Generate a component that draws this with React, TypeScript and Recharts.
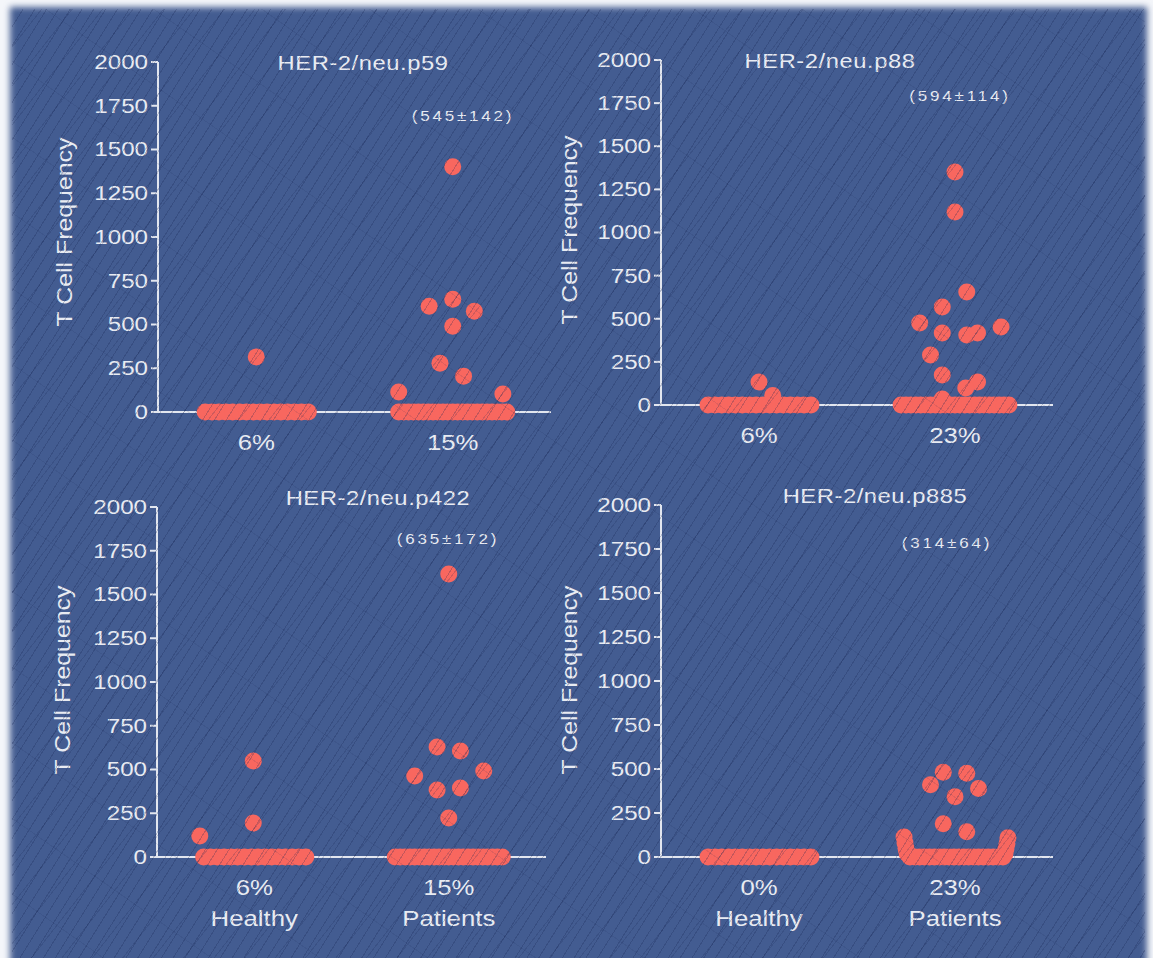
import React from 'react'
import { ScatterChart, Scatter, XAxis, YAxis } from 'recharts'

const W = 1153
const H = 958
const INK = '#E8EBF2'
const AXIS = '#E2E6EF'
const DOT = '#F8675F'
const FONT = '"Liberation Sans", Arial, sans-serif'

const Y_TICKS = [0, 250, 500, 750, 1000, 1250, 1500, 1750, 2000]
const GROUP_X = [1, 3]
const GROUP_NAMES = ['Healthy', 'Patients']

// non-responders, spread along the zero line of each group
const HEALTHY_ZERO_X = [0.48, 0.55, 0.62, 0.69, 0.76, 0.83, 0.9, 0.97, 1.04, 1.11, 1.18, 1.25, 1.32, 1.39, 1.46, 1.53]
const PATIENT_ZERO_X = [
  2.45, 2.5, 2.55, 2.6, 2.65, 2.7, 2.75, 2.8, 2.85, 2.9, 2.95, 3.0,
  3.05, 3.1, 3.15, 3.2, 3.25, 3.3, 3.35, 3.4, 3.45, 3.5, 3.55,
]
const P885_PATIENT_ZERO_X = [
  2.54, 2.59, 2.64, 2.69, 2.74, 2.79, 2.84, 2.89, 2.94, 2.99, 3.04,
  3.09, 3.14, 3.19, 3.24, 3.29, 3.34, 3.39, 3.44, 3.49,
]

// responders as [x, T cell frequency]
const P59_HEALTHY = [[1.0, 315]]
const P59_PATIENTS = [
  [3.0, 1402], [2.76, 604], [3.0, 644], [3.22, 576], [3.0, 490],
  [2.87, 279], [3.11, 205], [2.45, 114], [3.51, 103],
]
const P88_HEALTHY = [[1.0, 133], [1.14, 55]]
const P88_PATIENTS = [
  [3.0, 1351], [3.0, 1119], [3.12, 655], [2.87, 568], [2.64, 475],
  [2.87, 417], [3.12, 406], [3.23, 417], [3.47, 452], [2.75, 290],
  [2.87, 174], [3.23, 133], [3.11, 99], [2.87, 35],
]
const P422_HEALTHY = [[0.44, 120], [0.99, 549], [0.99, 194]]
const P422_PATIENTS = [
  [3.0, 1617], [2.88, 629], [3.12, 606], [2.65, 463], [3.36, 491],
  [2.88, 383], [3.12, 394], [3.0, 223],
]
const P885_HEALTHY: number[][] = []
const P885_PATIENTS = [
  [2.88, 482], [3.12, 476], [2.75, 411], [3.24, 389], [3.0, 343],
  [2.88, 189], [3.12, 143],
  [2.51, 22], [2.5, 50], [2.49, 80], [2.48, 114],
  [3.51, 18], [3.52, 45], [3.53, 75], [3.54, 109],
]

const TITLES = ['HER-2/neu.p59', 'HER-2/neu.p88', 'HER-2/neu.p422', 'HER-2/neu.p885']
const PCT_LABELS = [['6%', '15%'], ['6%', '23%'], ['6%', '15%'], ['0%', '23%']]
const MEAN_SEM = ['(545±142)', '(594±114)', '(635±172)', '(314±64)']

const PANELS = [
  {
    title: TITLES[0], pct: PCT_LABELS[0], note: MEAN_SEM[0], groups: false,
    healthy: P59_HEALTHY, patients: P59_PATIENTS, hz: HEALTHY_ZERO_X, pz: PATIENT_ZERO_X,
    plot: { left: 158, top: 62, right: 551, bottom: 412 },
    titleAt: [363, 62], noteAt: [463, 115], yLabelAt: [65, 232],
  },
  {
    title: TITLES[1], pct: PCT_LABELS[1], note: MEAN_SEM[1], groups: false,
    healthy: P88_HEALTHY, patients: P88_PATIENTS, hz: HEALTHY_ZERO_X, pz: PATIENT_ZERO_X,
    plot: { left: 661, top: 60, right: 1053, bottom: 405 },
    titleAt: [830, 60], noteAt: [960, 95], yLabelAt: [570, 230],
  },
  {
    title: TITLES[2], pct: PCT_LABELS[2], note: MEAN_SEM[2], groups: true,
    healthy: P422_HEALTHY, patients: P422_PATIENTS, hz: HEALTHY_ZERO_X, pz: PATIENT_ZERO_X,
    plot: { left: 157, top: 507, right: 546, bottom: 857 },
    titleAt: [378, 497], noteAt: [448, 538], yLabelAt: [63, 680],
  },
  {
    title: TITLES[3], pct: PCT_LABELS[3], note: MEAN_SEM[3], groups: true,
    healthy: P885_HEALTHY, patients: P885_PATIENTS, hz: HEALTHY_ZERO_X, pz: P885_PATIENT_ZERO_X,
    plot: { left: 661, top: 505, right: 1053, bottom: 857 },
    titleAt: [875, 495], noteAt: [947, 542], yLabelAt: [570, 680],
  },
]

const Y_AXIS_W = 60
const X_AXIS_H = 80

// eslint-disable-next-line @typescript-eslint/no-explicit-any
const Dot = (props: any) => <circle cx={props.cx} cy={props.cy} r={8.5} fill={DOT} />

// eslint-disable-next-line @typescript-eslint/no-explicit-any
function ValueTick({ x, y, payload }: any) {
  return (
    <g transform={`translate(${x},${y}) scale(1.15,1)`}>
      <text textAnchor="end" dominantBaseline="central" fill={INK} fontSize={21} fontFamily={FONT}>
        {payload.value}
      </text>
    </g>
  )
}

// eslint-disable-next-line @typescript-eslint/no-explicit-any
function GroupTick({ x, y, payload, pct, groups }: any) {
  const i = GROUP_X.indexOf(payload.value)
  return (
    <g transform={`translate(${x},${y}) scale(1.12,1)`}>
      <text y={30} textAnchor="middle" dominantBaseline="central" fill={INK} fontSize={23} fontFamily={FONT}>
        {pct[i]}
      </text>
      {groups && (
        <text y={61} textAnchor="middle" dominantBaseline="central" fill={INK} fontSize={23} fontFamily={FONT}>
          {GROUP_NAMES[i]}
        </text>
      )}
    </g>
  )
}

function Caption({ at, size, text, rotate = false, spacing = 0 }: { at: number[]; size: number; text: string; rotate?: boolean; spacing?: number }) {
  return (
    <div
      style={{
        position: 'absolute', left: at[0], top: at[1], whiteSpace: 'nowrap',
        fontSize: size, lineHeight: 1, color: INK, fontFamily: FONT, letterSpacing: spacing,
        transform: `translate(-50%,-50%)${rotate ? ' rotate(-90deg)' : ''} scaleX(1.13)`,
      }}
    >
      {text}
    </div>
  )
}

// eslint-disable-next-line @typescript-eslint/no-explicit-any
function Panel({ p }: { p: any }) {
  const data = [
    ...p.hz.map((x: number) => ({ x, y: 0 })),
    ...p.pz.map((x: number) => ({ x, y: 0 })),
    ...p.healthy.map(([x, y]: number[]) => ({ x, y })),
    ...p.patients.map(([x, y]: number[]) => ({ x, y })),
  ]
  const { left, top, right, bottom } = p.plot
  return (
    <>
      <div style={{ position: 'absolute', left: 0, top: 0 }}>
        <ScatterChart
          width={W}
          height={H}
          margin={{ top, left: left - Y_AXIS_W, right: W - right, bottom: H - bottom - X_AXIS_H }}
        >
          <XAxis
            type="number"
            dataKey="x"
            domain={[0, 4]}
            ticks={GROUP_X}
            interval={0}
            height={X_AXIS_H}
            tickLine={false}
            tickSize={0}
            tickMargin={0}
            axisLine={{ stroke: AXIS, strokeWidth: 2 }}
            // eslint-disable-next-line @typescript-eslint/no-explicit-any
            tick={(t: any) => <GroupTick {...t} pct={p.pct} groups={p.groups} />}
          />
          <YAxis
            type="number"
            dataKey="y"
            domain={[0, 2000]}
            ticks={Y_TICKS}
            interval={0}
            width={Y_AXIS_W}
            tickSize={7}
            tickMargin={3}
            axisLine={{ stroke: AXIS, strokeWidth: 2 }}
            tickLine={{ stroke: AXIS, strokeWidth: 2 }}
            tick={<ValueTick />}
          />
          <Scatter data={data} shape={Dot} isAnimationActive={false} />
        </ScatterChart>
      </div>
      <Caption at={p.titleAt} size={21} text={p.title} spacing={0.5} />
      <Caption at={p.noteAt} size={15} text={p.note} spacing={2.5} />
      <Caption at={p.yLabelAt} size={22} text="T Cell Frequency" rotate />
    </>
  )
}

export default function App() {
  return (
    <div style={{ position: 'absolute', left: 0, top: 0, width: W, height: H, overflow: 'hidden', background: '#F4F6FA' }}>
      {/* blue board with soft edges */}
      <div style={{ position: 'absolute', left: 10, top: 7, width: 1137, height: 975, background: '#435C91', filter: 'blur(3px)' }} />
      {PANELS.map((p, i) => <Panel key={i} p={p} />)}
      {/* fine diagonal scratches over the whole board */}
      <div
        style={{
          position: 'absolute', left: 12, top: 9, width: 1133, height: 960, pointerEvents: 'none',
          backgroundImage:
            'repeating-linear-gradient(122deg, transparent 0 9px, rgba(20,34,80,0.24) 9px 10px),' +
            'repeating-linear-gradient(128deg, transparent 0 23px, rgba(20,34,80,0.18) 23px 24px),' +
            'repeating-linear-gradient(35deg, transparent 0 61px, rgba(20,34,80,0.10) 61px 62px)',
        }}
      />
    </div>
  )
}
